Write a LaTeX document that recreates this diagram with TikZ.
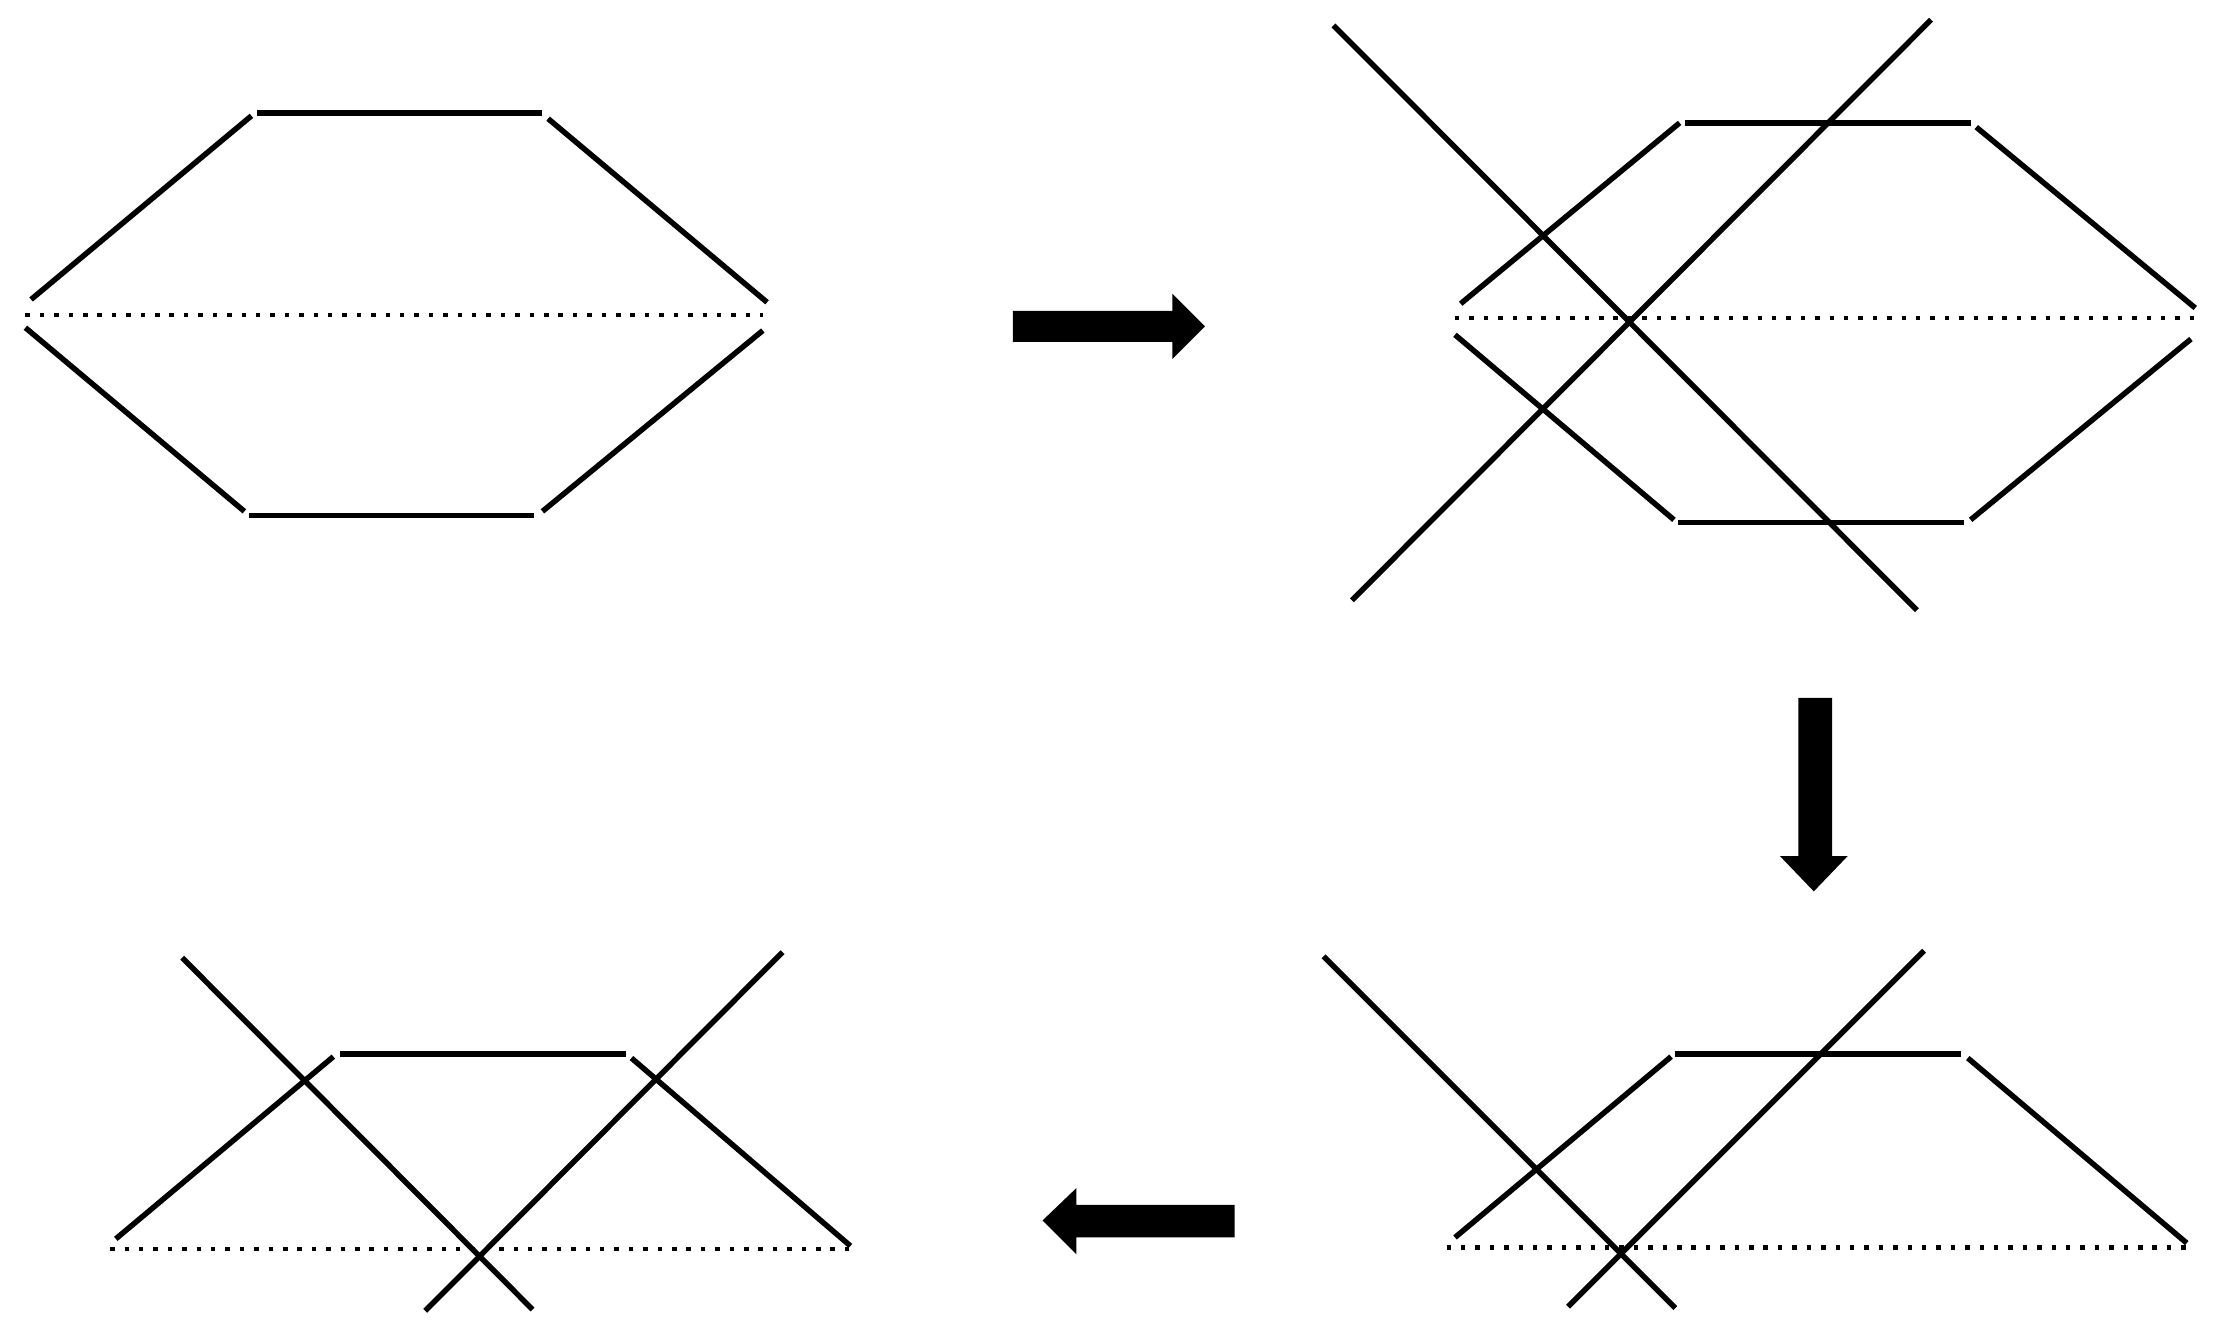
\documentclass[tikz,border=0pt]{standalone}
\begin{document}
\begin{tikzpicture}[x=0.01cm,y=-0.01cm,
  seg/.style={line width=1.1pt},
  dot/.style={line width=0.9pt,dotted},
  bigarrow/.style={fill=black}]
\useasboundingbox (0,0) rectangle (1568,940);
% panel 1
\draw[seg] (22,212)--(178,82);
\draw[seg] (182,80)--(384,80);
\draw[seg] (388,84)--(543,214);
\draw[seg] (18,232)--(173,362);
\draw[seg] (176,365)--(378,365);
\draw[seg] (384,362)--(540,234);
\draw[dot] (18,223)--(540,223);
% arrow right
\fill[bigarrow] (717,220)--(830,220)--(830,208)--(853,231)--(830,254)--(830,242)--(717,242)--cycle;
% panel 2
\draw[seg] (1034,215)--(1189,87);
\draw[seg] (1193,87)--(1395,87);
\draw[seg] (1399,90)--(1554,218);
\draw[seg] (1030,237)--(1185,368);
\draw[seg] (1188,370)--(1390,370);
\draw[seg] (1395,368)--(1551,240);
\draw[dot] (1030,225)--(1554,225);
\draw[seg] (944,18)--(1357,432);
\draw[seg] (1367,14)--(957,425);
% arrow down
\fill[bigarrow] (1273,494)--(1297,494)--(1297,606)--(1308,606)--(1284,631)--(1260,606)--(1273,606)--cycle;
% panel 3
\draw[seg] (1030,876)--(1183,748);
\draw[seg] (1186,746)--(1388,746);
\draw[seg] (1393,749)--(1548,880);
\draw[dot] (1024,883)--(1548,883);
\draw[seg] (937,677)--(1186,926);
\draw[seg] (1362,673)--(1110,925);
% arrow left
\fill[bigarrow] (874,853)--(762,853)--(762,841)--(738,864)--(762,888)--(762,876)--(874,876)--cycle;
% panel 4
\draw[seg] (82,877)--(236,748);
\draw[seg] (241,746)--(443,746);
\draw[seg] (447,749)--(602,882);
\draw[dot] (78,884)--(602,884);
\draw[seg] (129,678)--(377,927);
\draw[seg] (554,674)--(301,928);
\end{tikzpicture}
\end{document}
